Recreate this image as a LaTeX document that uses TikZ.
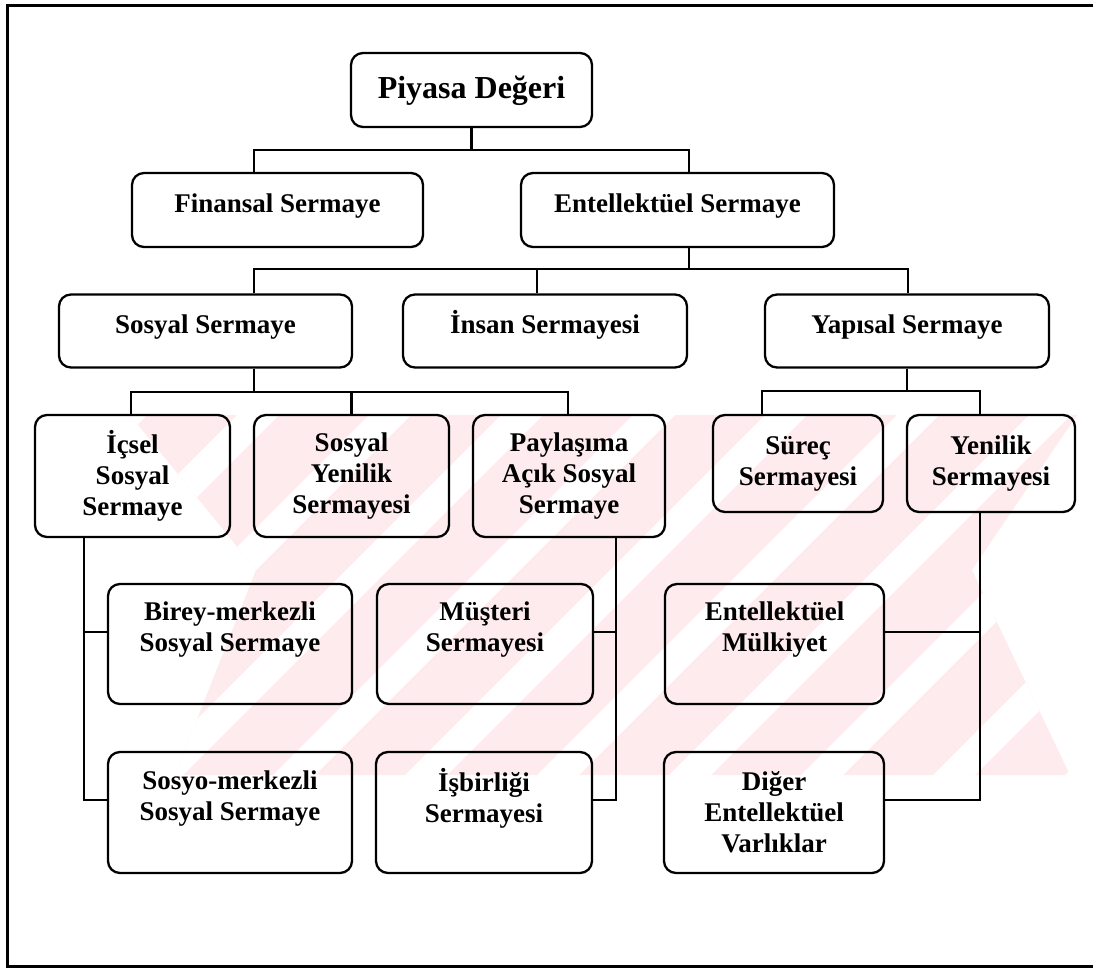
\documentclass[tikz,border=0pt]{standalone}
\usepackage{fontspec}
\setmainfont{Liberation Serif}
\definecolor{wm}{RGB}{253,235,238}
\begin{document}
\begin{tikzpicture}[x=1pt,y=-1pt,
  box/.style={draw, line width=2.3pt, rounded corners=12pt, inner sep=0pt,
    font=\bfseries\fontsize{27}{31}\selectfont},
  sbox/.style={box, text height=18pt, text depth=14pt},
  mbox/.style={box, align=center},
  conn/.style={line width=2.1pt}]
\useasboundingbox (0,0) rectangle (1093,969);
% watermark
\begin{scope}
  \clip (130,415) -- (1077,415) -- (972,570) -- (1070,775) -- (175,775) -- (256,570) -- cycle;
  \fill[wm] (0,400) rectangle (1093,790);
  \foreach \k in {-3,...,9} {
    \pgfmathsetmacro\ca{784+132*\k}
    \pgfmathsetmacro\cb{826+132*\k}
    \fill[white] (\ca-400,400) -- (\cb-400,400) -- (\cb-790,790) -- (\ca-790,790) -- cycle;
  }
\end{scope}
% frame
\draw[line width=3pt] (1093,5) -- (7,5) -- (7,966) -- (1093,966);
% nodes
\node[box, minimum width=241pt, minimum height=74pt, text height=24pt, text depth=8pt,
  font=\bfseries\fontsize{32}{36}\selectfont] (pv) at (471.5,90) {Piyasa Değeri};
\node[sbox, minimum width=291pt, minimum height=74pt] (fin) at (277.5,210) {Finansal Sermaye};
\node[sbox, minimum width=313pt, minimum height=74pt] (ent) at (677.5,210) {Entellektüel Sermaye};
\node[sbox, minimum width=293pt, minimum height=73pt] (ss) at (205.5,331) {Sosyal Sermaye};
\node[sbox, minimum width=284pt, minimum height=73pt] (ins) at (545,331) {İnsan Sermayesi};
\node[sbox, minimum width=284pt, minimum height=73pt] (yap) at (907,331) {Yapısal Sermaye};
\node[mbox, minimum width=195pt, minimum height=122pt] (ic) at (132.5,476) {İçsel\\Sosyal\\Sermaye};
\node[mbox, minimum width=195pt, minimum height=122pt] (sy) at (351.5,476) {Sosyal\\Yenilik\\Sermayesi};
\node[mbox, minimum width=192pt, minimum height=122pt] (pay) at (569,476) {Paylaşıma\\Açık Sosyal\\Sermaye};
\node[mbox, minimum width=170pt, minimum height=97pt] (sur) at (798,463.5) {Süreç\\Sermayesi};
\node[mbox, minimum width=168pt, minimum height=97pt] (yen) at (991,463.5) {Yenilik\\Sermayesi};
\node[mbox, minimum width=244pt, minimum height=120pt] (bir) at (230,644) {Birey-merkezli\\Sosyal Sermaye\\[3pt]\mbox{}};
\node[mbox, minimum width=216pt, minimum height=120pt] (mus) at (485,644) {Müşteri\\Sermayesi\\[3pt]\mbox{}};
\node[mbox, minimum width=219pt, minimum height=120pt] (em) at (774.5,644) {Entellektüel\\Mülkiyet\\[3pt]\mbox{}};
\node[mbox, minimum width=244pt, minimum height=121pt] (sos) at (230,812.5) {Sosyo-merkezli\\Sosyal Sermaye\\[3pt]\mbox{}};
\node[mbox, minimum width=216pt, minimum height=121pt] (isb) at (484,812.5) {İşbirliği\\Sermayesi\\[3pt]\mbox{}};
\node[mbox, minimum width=220pt, minimum height=121pt] (dig) at (774,812.5) {Diğer\\Entellektüel\\Varlıklar};
% helper coordinates
\coordinate (X84) at (84,0);
\coordinate (X131) at (131,0);
\coordinate (X254) at (254,0);
\coordinate (X537) at (537,0);
\coordinate (X568) at (568,0);
\coordinate (X616) at (616,0);
\coordinate (X689) at (689,0);
\coordinate (X762) at (762,0);
\coordinate (X908) at (908,0);
\coordinate (X980) at (980,0);
\coordinate (Y150) at (0,150);
\coordinate (Y269) at (0,269);
\coordinate (Y391) at (0,391);
\coordinate (Y392) at (0,392);
\coordinate (Y632) at (0,632);
\coordinate (Y800) at (0,800);
% connectors
\draw[conn] (pv.south) -- (pv.south |- Y150);
\draw[conn] (X254 |- fin.north) -- (X254 |- Y150) -- (X689 |- Y150) -- (X689 |- ent.north);
\draw[conn] (X689 |- ent.south) -- (X689 |- Y269);
\draw[conn] (X254 |- ss.north) -- (X254 |- Y269) -- (X908 |- Y269) -- (X908 |- yap.north);
\draw[conn] (X537 |- ins.north) -- (X537 |- Y269);
\draw[conn] (X254 |- ss.south) -- (X254 |- Y392);
\draw[conn] (X131 |- ic.north) -- (X131 |- Y392) -- (X568 |- Y392) -- (X568 |- pay.north);
\draw[conn] (sy.north) -- (sy.north |- Y392);
\draw[conn] (yap.south) -- (yap.south |- Y391);
\draw[conn] (X762 |- sur.north) -- (X762 |- Y391) -- (X980 |- Y391) -- (X980 |- yen.north);
\draw[conn] (X84 |- ic.south) -- (X84 |- Y800) -- (sos.west |- Y800);
\draw[conn] (X84 |- Y632) -- (bir.west |- Y632);
\draw[conn] (X616 |- pay.south) -- (X616 |- Y800) -- (isb.east |- Y800);
\draw[conn] (mus.east |- Y632) -- (X616 |- Y632);
\draw[conn] (X980 |- yen.south) -- (X980 |- Y800) -- (dig.east |- Y800);
\draw[conn] (em.east |- Y632) -- (X980 |- Y632);
\end{tikzpicture}
\end{document}
